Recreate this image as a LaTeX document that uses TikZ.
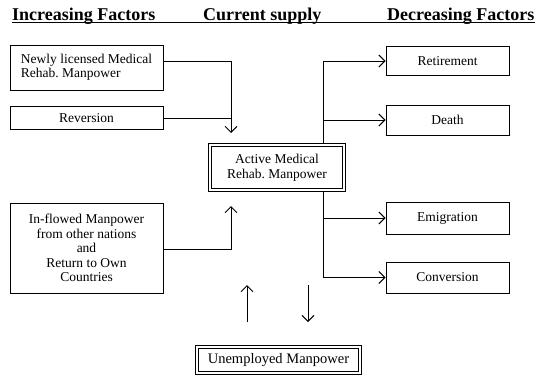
\documentclass[tikz,border=0pt]{standalone}
\usepackage{fontspec}
\setmainfont{Liberation Serif}
\usetikzlibrary{arrows.meta}
\frenchspacing
\begin{document}
\begin{tikzpicture}[x=1pt,y=-1pt,
  box/.style={draw, line width=1pt, inner sep=0pt, font=\frenchspacing\fontsize{13.5}{14.5}\selectfont, align=center},
  dbox/.style={box, double, double distance=2pt, line width=1.1pt, outer sep=2.2pt},
  ln/.style={line width=1pt},
  flow/.style={ln, -{Straight Barb[length=6pt,width=12pt,line width=1pt]}},
  hdr/.style={font=\fontsize{18}{18}\selectfont\bfseries, anchor=base west, inner sep=0pt}
]
\useasboundingbox[fill=white] (0,0) rectangle (548,383);

% headers
\node[hdr] (h1) at (12,20) {Increasing Factors};
\node[hdr] (h2) at (203,20) {Current supply};
\node[hdr] (h3) at (387,20) {Decreasing Factors};
\draw[line width=1.2pt] ([yshift=-2.5pt]h1.base west) -- ([yshift=-2.5pt]h3.base east);

% left boxes
\node[box, minimum width=153pt, minimum height=45pt, align=left] (newly) at (86.5,67.5) {Newly licensed Medical\\Rehab. Manpower};
\node[box, minimum width=153pt, minimum height=23pt] (rev) at (86.5,118) {Reversion};
\node[box, minimum width=153pt, minimum height=90pt] (inf) at (86.5,248) {In-flowed Manpower\\from other nations\\and\\Return to Own\\Countries};

% centre
\node[dbox, minimum width=134pt, minimum height=45pt] (active) at (277,167.5) {Active Medical\\Rehab. Manpower};
\node[dbox, minimum width=163pt, minimum height=26pt, font=\frenchspacing\fontsize{14.5}{15}\selectfont] (unemp) at (278.5,360) {Unemployed Manpower};

% right boxes
\node[box, minimum width=123pt, minimum height=29pt] (ret) at (447.5,61) {Retirement};
\node[box, minimum width=123pt, minimum height=30pt] (death) at (447.5,120) {Death};
\node[box, minimum width=123pt, minimum height=32pt] (emig) at (447.5,218) {Emigration};
\node[box, minimum width=123pt, minimum height=31pt] (conv) at (447.5,277.5) {Conversion};

% left trunk
\coordinate (ltop) at (231,133);
\coordinate (lbot) at (231,206);
\draw[flow] ([yshift=6.5pt]newly.east) -| (ltop);
\draw[ln] (rev.east) -- (rev.east -| ltop);
\draw[flow] ([yshift=-1pt]inf.east) -| (lbot);

% right trunk
\coordinate (rt) at (323,0);
\draw[ln] (ret.west -| rt) -- (rt |- active.north);
\draw[ln] (rt |- active.south) -- (conv.west -| rt);
\draw[flow] (ret.west -| rt) -- (ret.west);
\draw[flow] (death.west -| rt) -- (death.west);
\draw[flow] (emig.west -| rt) -- (emig.west);
\draw[flow] (conv.west -| rt) -- (conv.west);

% unemployed exchange
\coordinate (ua) at (247,322);
\coordinate (ub) at (247,285);
\coordinate (da) at (308,285);
\coordinate (db) at (308,322);
\draw[flow] (ua) -- (ub);
\draw[flow] (da) -- (db);
\end{tikzpicture}
\end{document}
